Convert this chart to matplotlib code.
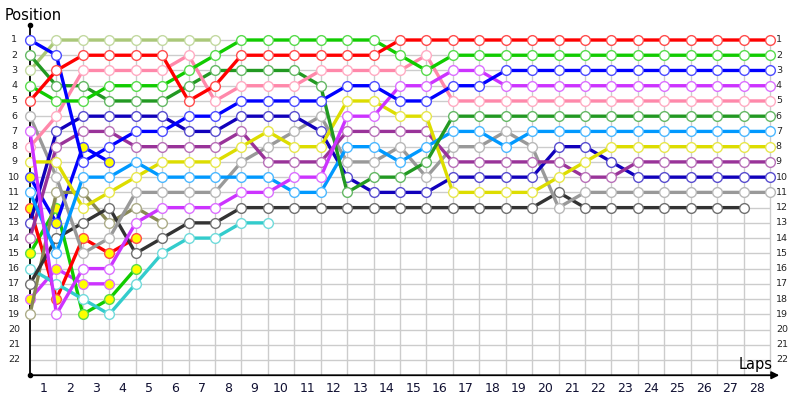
import matplotlib
matplotlib.use("Agg")
import matplotlib.pyplot as plt
from matplotlib.colors import to_rgb

# ---- Data: position of each car at the end of every lap (lap 0 = start) ----
laps_total = 28
lap_ticks = list(range(0, 29))
lap_labels = [str(i) for i in range(1, 29)]
pos_labels = list(range(1, 23))

red = [5, 3, 2, 2, 2, 2, 5, 4, 2, 2, 2, 2, 2, 2, 1, 1, 1, 1, 1, 1, 1, 1, 1, 1, 1, 1, 1, 1, 1]
green = [4, 5, 5, 4, 4, 4, 3, 2, 1, 1, 1, 1, 1, 1, 2, 3, 2, 2, 2, 2, 2, 2, 2, 2, 2, 2, 2, 2, 2]
blue = [1, 2, 9, 8, 7, 7, 6, 6, 5, 5, 5, 5, 4, 4, 5, 5, 4, 4, 3, 3, 3, 3, 3, 3, 3, 3, 3, 3, 3]
light_purple = [7, 19, 16, 16, 13, 12, 12, 12, 11, 11, 10, 10, 6, 6, 4, 4, 3, 3, 4, 4, 4, 4, 4, 4, 4, 4, 4, 4, 4]
pink = [8, 6, 3, 3, 3, 3, 2, 5, 4, 4, 4, 3, 3, 3, 3, 2, 5, 5, 5, 5, 5, 5, 5, 5, 5, 5, 5, 5, 5]
dark_green = [2, 4, 4, 5, 5, 5, 4, 3, 3, 3, 3, 4, 11, 10, 10, 9, 6, 6, 6, 6, 6, 6, 6, 6, 6, 6, 6, 6, 6]
light_blue = [11, 15, 10, 10, 9, 10, 10, 10, 10, 10, 11, 11, 8, 8, 9, 8, 7, 7, 8, 7, 7, 7, 7, 7, 7, 7, 7, 7, 7]
yellow = [9, 9, 12, 11, 10, 9, 9, 9, 8, 7, 8, 8, 5, 5, 6, 6, 11, 11, 11, 11, 10, 9, 8, 8, 8, 8, 8, 8, 8]
dark_purple = [14, 8, 7, 7, 8, 8, 8, 8, 7, 9, 9, 9, 7, 7, 7, 7, 9, 9, 9, 9, 9, 10, 10, 9, 9, 9, 9, 9, 9]
dark_blue = [13, 7, 6, 6, 6, 6, 7, 7, 6, 6, 6, 7, 10, 11, 11, 11, 10, 10, 10, 10, 8, 8, 9, 10, 10, 10, 10, 10, 10]
gray = [6, 10, 15, 14, 11, 11, 11, 11, 9, 8, 7, 6, 9, 9, 8, 10, 8, 8, 7, 8, 12, 11, 11, 11, 11, 11, 11, 11, 11]
black = [17, 14, 13, 12, 15, 14, 13, 13, 12, 12, 12, 12, 12, 12, 12, 12, 12, 12, 12, 12, 11, 12, 12, 12, 12, 12, 12, 12]
light_olive = [3, 1, 1, 1, 1, 1, 1, 1]
cyan = [16, 17, 18, 19, 17, 15, 14, 14, 13, 13]
olive = [19, 11, 11, 13, 12, 13]
blue_2 = [10, 13, 8, 9]
red_2 = [12, 18, 14, 15, 14]
green_2 = [15, 12, 19, 18, 16]
light_purple_2 = [18, 16, 17, 17]

# (positions, line colour, yellow-filled markers for the second car of a team)
cars = [
    (light_purple_2, "#cc33ff", True),
    (green_2, "#11cc00", True),
    (red_2, "#ff0000", True),
    (blue_2, "#0000ff", True),
    (olive, "#888855", False),
    (cyan, "#33cccc", False),
    (light_olive, "#aac878", False),
    (black, "#333333", False),
    (gray, "#999999", False),
    (dark_blue, "#1100bb", False),
    (dark_purple, "#993399", False),
    (yellow, "#dddd00", False),
    (light_blue, "#0099ff", False),
    (dark_green, "#229922", False),
    (pink, "#ff88aa", False),
    (light_purple, "#cc33ff", False),
    (blue, "#0000ff", False),
    (green, "#11cc00", False),
    (red, "#ff0000", False),
]

# ---- Pixel layout of the original chart ----
X0, DX = 30, 740 / 28      # lap 0 at x=30 px, lap 28 at x=770 px
Y0, DY = 40, 320 / 21      # position 1 at y=40 px, position 22 at y=360 px

fig = plt.figure(figsize=(8, 4), dpi=100)
ax = fig.add_axes([0, 0, 1, 1])
ax.set_xlim(-X0 / DX, (800 - X0) / DX)
ax.set_ylim(1 + (400 - Y0) / DY, 1 - Y0 / DY)
ax.axis("off")

grid_c = "#cccccc"
ax.vlines(lap_ticks[1:], 1, 23, color=grid_c, lw=1, zorder=1)
ax.hlines(pos_labels, 0, laps_total, color=grid_c, lw=1, zorder=1)

# axes with arrows
ax.plot([0, 0], [0, 23], color="black", lw=1.3, zorder=2)
ax.annotate("", xy=(28.35, 23), xytext=(0, 23),
            arrowprops=dict(arrowstyle="-|>", color="black", lw=1.3,
                            mutation_scale=11, shrinkA=0, shrinkB=0), zorder=2)
ax.plot([0, 0], [0, 23], ls="none", marker="o", ms=3, color="black", zorder=3)

def lighten(c, f=0.3):
    r, g, b = to_rgb(c)
    return (r + (1 - r) * f, g + (1 - g) * f, b + (1 - b) * f)

for vals, col, filled in cars:
    x = list(range(len(vals)))
    ax.plot(x, vals, color=col, lw=2.4, solid_capstyle="round", zorder=4,
            marker="o", ms=7, mfc="#ffff00" if filled else "white",
            mec=lighten(col), mew=1)

# tick labels
for p in pos_labels:
    ax.text(-0.6, p, str(p), ha="center", va="center", fontsize=6.8, color="#222222")
    ax.text(28.22, p, str(p), ha="left", va="center", fontsize=6.8, color="#222222")
for i, lab in enumerate(lap_labels):
    ax.text(i + 0.5, 23.85, lab, ha="center", va="center", fontsize=9, color="#111133")

ax.text(-0.95, -0.64, "Position", ha="left", va="center", fontsize=10.5, color="black")
ax.text(28.1, 22.3, "Laps", ha="right", va="center", fontsize=10.5, color="black")

fig.savefig("out.png", dpi=100)
